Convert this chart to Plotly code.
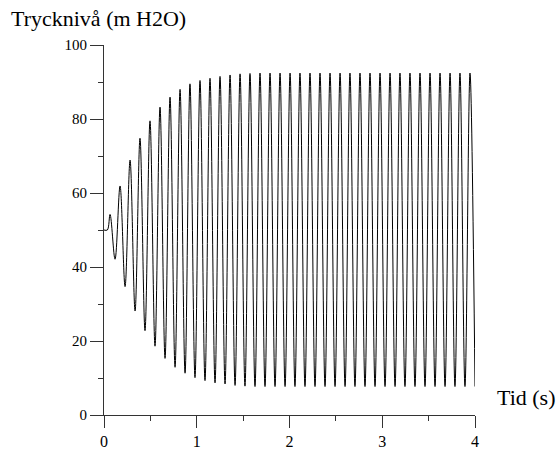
import plotly.graph_objects as go

# Start of the signal (flat at 50 before oscillation begins)
start_t = [0.0, 0.036]
start_v = [50.0, 50.0]

# Times (s) of successive extrema (peak, trough, peak, ...)
extrema_t = [0.065, 0.119, 0.173, 0.227, 0.281, 0.335, 0.388, 0.442, 0.496, 0.550,
             0.604, 0.658, 0.712, 0.766, 0.820, 0.874, 0.927, 0.981, 1.035, 1.089,
             1.143, 1.197, 1.251, 1.305, 1.359, 1.413, 1.467, 1.520, 1.574, 1.628,
             1.682, 1.736, 1.790, 1.844, 1.898, 1.952, 2.006, 2.059, 2.113, 2.167,
             2.221, 2.275, 2.329, 2.383, 2.437, 2.491, 2.545, 2.599, 2.652, 2.706,
             2.760, 2.814, 2.868, 2.922, 2.976, 3.030, 3.084, 3.138, 3.191, 3.245,
             3.299, 3.353, 3.407, 3.461, 3.515, 3.569, 3.623, 3.677, 3.731, 3.784,
             3.838, 3.892, 3.946, 4.000]

# Values (m H2O) of successive extrema
extrema_v = [54.2, 42.1, 61.9, 34.7, 68.9, 28.1, 74.8, 22.8, 79.5, 18.6,
             83.2, 15.3, 85.9, 12.9, 88.0, 11.3, 89.5, 10.1, 90.4, 9.3,
             91.0, 8.7, 91.5, 8.4, 91.9, 8.0, 92.2, 7.8, 92.3, 7.7,
             92.4, 7.7, 92.4, 7.7, 92.4, 7.7, 92.4, 7.7, 92.4, 7.7,
             92.4, 7.7, 92.4, 7.7, 92.4, 7.7, 92.4, 7.7, 92.4, 7.7,
             92.4, 7.7, 92.4, 7.7, 92.4, 7.7, 92.4, 7.7, 92.4, 7.7,
             92.4, 7.7, 92.4, 7.7, 92.4, 7.7, 92.4, 7.7, 92.4, 7.7,
             92.4, 7.7, 92.4, 7.7]

x_ticks = [0, 1, 2, 3, 4]
x_minor = [0.5, 1.5, 2.5, 3.5]
y_ticks = [0, 20, 40, 60, 80, 100]
y_minor = [10, 30, 50, 70, 90]

font = "Liberation Serif"
axcol = "#333"

fig = go.Figure()
fig.add_trace(go.Scatter(
    x=start_t + extrema_t, y=start_v + extrema_v,
    mode="lines", line=dict(color="black", width=1, shape="spline", smoothing=1.0),
    hoverinfo="skip", showlegend=False))

fig.update_xaxes(range=[0, 4], tickmode="array", tickvals=x_ticks,
                 ticktext=[str(v) for v in x_ticks],
                 showgrid=False, zeroline=False, showline=True, linecolor=axcol, linewidth=1,
                 ticks="outside", ticklen=12, tickcolor=axcol, tickwidth=1, automargin=False,
                 tickfont=dict(family=font, size=16, color="black"),
                 minor=dict(tickmode="array", tickvals=x_minor, ticks="outside",
                            ticklen=5, tickcolor=axcol, showgrid=False))
fig.update_yaxes(range=[0, 100], tickmode="array", tickvals=y_ticks,
                 ticktext=[str(v) for v in y_ticks],
                 showgrid=False, zeroline=False, showline=True, linecolor=axcol, linewidth=1,
                 ticks="outside", ticklen=13, tickcolor=axcol, tickwidth=1, automargin=False,
                 tickfont=dict(family=font, size=15, color="black"),
                 minor=dict(tickmode="array", tickvals=y_minor, ticks="outside",
                            ticklen=5, tickcolor=axcol, showgrid=False))

fig.add_annotation(text="Trycknivå (m H2O)", xref="paper", yref="paper",
                   x=(9 - 104) / 371, y=(415 - 18) / 370, xanchor="left", yanchor="middle",
                   showarrow=False, font=dict(family=font, size=22, color="black"))
fig.add_annotation(text="Tid (s)", xref="paper", yref="paper",
                   x=(495 - 104) / 371, y=(415 - 397) / 370, xanchor="left", yanchor="middle",
                   showarrow=False, font=dict(family=font, size=22, color="black"))

fig.update_layout(width=557, height=452, margin=dict(l=104, r=82, t=45, b=37),
                  plot_bgcolor="white", paper_bgcolor="white",
                  font=dict(family=font))

fig.write_html("out.html")
